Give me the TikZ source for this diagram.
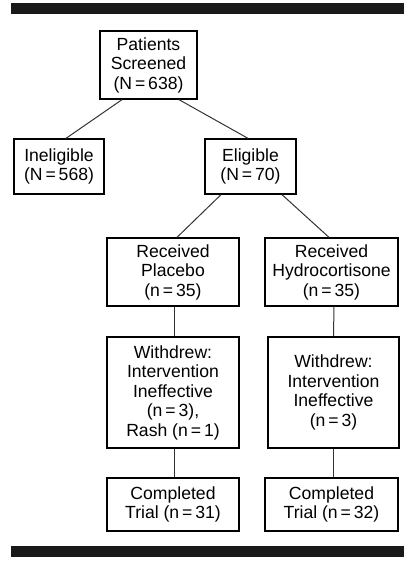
\documentclass[tikz,border=0pt]{standalone}
\usepackage{fontspec}
\setmainfont{Liberation Sans}
\usepackage{tikz}

\tikzset{
  box/.style={draw, line width=1.3pt, align=center, inner sep=0pt, font=\fontsize{17.6}{19.5}\selectfont},
  link/.style={draw=black!80, line width=1pt}
}

\begin{document}
\begin{tikzpicture}[x=1pt, y=-1pt]
\useasboundingbox (0,0) rectangle (413,565);

% Top and bottom rules
\fill[black!90] (11,3) rectangle (404,13.5);
\fill[black!90] (11,546) rectangle (404,556.5);

% Root Node
\node[box, minimum width=97pt, minimum height=68pt] (screened) at (148.5,65) {Patients\\Screened\\(N\,=\,638)};

% Level 1: Eligibility
\node[box, minimum width=90pt, minimum height=55pt] (inelig) at (59,166.5) {Ineligible\\(N\,=\,568)};
\node[box, minimum width=91pt, minimum height=55pt] (elig) at (250.5,166.5) {Eligible\\(N\,=\,70)};

% Level 2: Treatment arms
\node[box, minimum width=132pt, minimum height=68pt] (placebo) at (173,272) {Received\\Placebo\\(n\,=\,35)};
\node[box, minimum width=133pt, minimum height=68pt] (hydro) at (331.5,272) {Received\\Hydrocortisone\\(n\,=\,35)};

% Level 3: Withdrawals
\node[box, minimum width=132pt, minimum height=111pt] (wd_plac) at (173,392.5) {Withdrew:\\Intervention\\Ineffective\\(n\,=\,3),\\Rash (n\,=\,1)};
\node[box, minimum width=131pt, minimum height=111pt] (wd_hydro) at (333.5,392.5) {Withdrew:\\Intervention\\Ineffective\\(n\,=\,3)};

% Level 4: Completed
\node[box, minimum width=132pt, minimum height=53pt] (done_plac) at (173,504.5) {Completed\\Trial (n\,=\,31)};
\node[box, minimum width=133pt, minimum height=53pt] (done_hydro) at (331.5,504.5) {Completed\\Trial (n\,=\,32)};

% Lines (Root to Level 1)
\draw[link] ([xshift=-26.5pt]screened.south) -- ([xshift=7pt]inelig.north);
\draw[link] ([xshift=30.5pt]screened.south) -- ([xshift=-2.5pt]elig.north);

% Lines (Eligible to arms)
\draw[link] ([xshift=-29.5pt]elig.south) -- ([xshift=4pt]placebo.north);
\draw[link] ([xshift=31.5pt]elig.south) -- ([xshift=-2.5pt]hydro.north);

% Lines (arms down)
\draw[link] ([xshift=1pt]placebo.south) -- ([xshift=1pt]wd_plac.north);
\draw[link] ([xshift=2.5pt]hydro.south) -- (wd_hydro.north);
\draw[link] ([xshift=1pt]wd_plac.south) -- ([xshift=1pt]done_plac.north);
\draw[link] (wd_hydro.south) -- ([xshift=2pt]done_hydro.north);

\end{tikzpicture}
\end{document}
